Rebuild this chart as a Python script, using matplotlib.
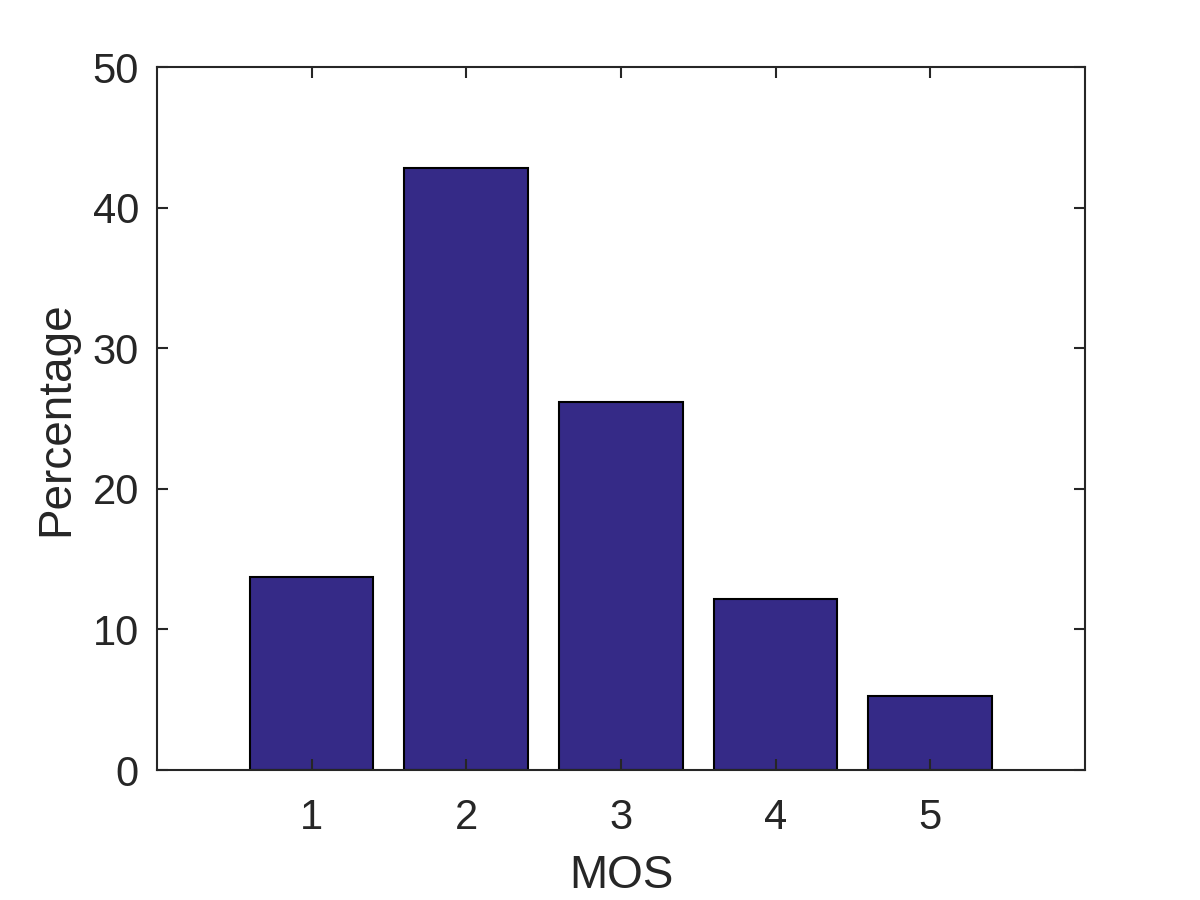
import numpy as np
import matplotlib.pyplot as plt

# MOS distribution
mos = [1, 2, 3, 4, 5]
percentage = [13.7, 42.8, 26.2, 12.2, 5.3]

plt.rcParams['font.family'] = ['Liberation Sans', 'DejaVu Sans']
txt = '#262626'

fig = plt.figure(figsize=(12, 9), dpi=100)
ax = fig.add_axes([0.1308, 0.1444, 0.7733, 0.7811])

ax.bar(mos, percentage, width=0.8, color='#352A87', edgecolor='black', linewidth=1.5)

ax.set_xlim(0, 6)
ax.set_ylim(0, 50)
ax.set_xticks(mos)
ax.set_yticks(np.arange(0, 51, 10))
ax.tick_params(direction='in', length=8, width=1.5, top=True, right=True,
               labelsize=30, colors=txt)
ax.tick_params(axis='x', pad=20)
ax.tick_params(axis='y', pad=13)
for s in ax.spines.values():
    s.set_linewidth(1.5)
    s.set_color(txt)

ax.set_xlabel('MOS', fontsize=33, color=txt, labelpad=12)
ax.set_ylabel('Percentage', fontsize=33, color=txt, labelpad=10)

plt.savefig('out.png', dpi=100)
